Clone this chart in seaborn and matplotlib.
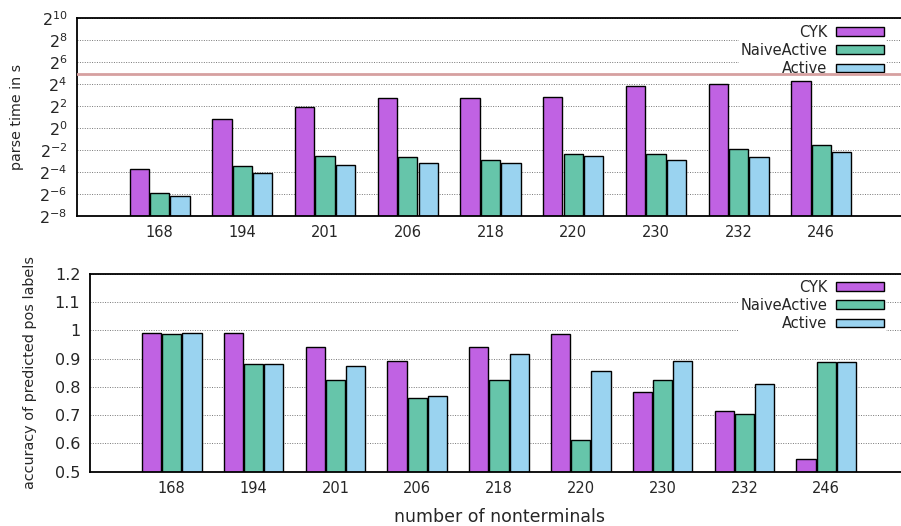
import matplotlib
matplotlib.use('Agg')
import matplotlib.pyplot as plt
import pandas as pd
import seaborn as sns

# data
nonterminals = ['168', '194', '201', '206', '218', '220', '230', '232', '246']
methods = ['CYK', 'NaiveActive', 'Active']

time_cyk = [0.075, 1.73, 3.68, 6.68, 6.68, 6.96, 14.5, 15.8, 19.2]
time_naive = [0.0164, 0.090, 0.167, 0.160, 0.129, 0.198, 0.189, 0.272, 0.349]
time_active = [0.0139, 0.057, 0.099, 0.107, 0.110, 0.171, 0.135, 0.160, 0.215]

acc_cyk = [0.992, 0.992, 0.943, 0.893, 0.943, 0.986, 0.781, 0.716, 0.544]
acc_naive = [0.986, 0.880, 0.825, 0.762, 0.825, 0.612, 0.825, 0.705, 0.887]
acc_active = [0.992, 0.880, 0.874, 0.768, 0.918, 0.855, 0.893, 0.809, 0.887]

timeout = 30
log_ticks = [-8, -6, -4, -2, 0, 2, 4, 6, 8, 10]
acc_ticks = [0.5, 0.6, 0.7, 0.8, 0.9, 1.0, 1.1, 1.2]
acc_tick_labels = ['0.5', '0.6', '0.7', '0.8', '0.9', '1', '1.1', '1.2']

palette = {'CYK': '#c062e3', 'NaiveActive': '#66c5aa', 'Active': '#9ad3f0'}


def long_form(a, b, c, name):
    rows = []
    for m, vals in zip(methods, [a, b, c]):
        for n, v in zip(nonterminals, vals):
            rows.append({'nonterminals': n, 'method': m, name: v})
    return pd.DataFrame(rows)


df_time = long_form(time_cyk, time_naive, time_active, 'time')
df_acc = long_form(acc_cyk, acc_naive, acc_active, 'acc')

sns.set_style('white')
plt.rcParams['font.family'] = ['DejaVu Sans']
plt.rcParams['mathtext.default'] = 'regular'

W, H = 901, 526
fig = plt.figure(figsize=(W / 100, H / 100), dpi=100)
ax1 = fig.add_axes([77 / W, (H - 215.7) / H, 827 / W, 197.4 / H])
ax2 = fig.add_axes([90 / W, (H - 471.7) / H, 818 / W, 197.7 / H])


def style_axes(ax):
    ax.set_xlim(-1, 9)
    ax.grid(axis='y', linestyle=(0, (1, 1.5)), color='#777777', linewidth=0.7)
    ax.grid(axis='x', visible=False)
    ax.set_axisbelow(True)
    for s in ax.spines.values():
        s.set_color('black')
        s.set_linewidth(1.3)
    ax.tick_params(length=0, pad=7)
    ax.tick_params(axis='x', labelsize=10.5)
    ax.tick_params(axis='y', labelsize=11.5)
    ax.set_xlabel('')


# parse time
sns.barplot(data=df_time, x='nonterminals', y='time', hue='method', order=nonterminals,
            hue_order=methods, palette=palette, width=0.74, gap=0.05, saturation=1,
            edgecolor='black', linewidth=1, ax=ax1)
ax1.set_yscale('log', base=2)
ax1.set_ylim(2 ** -8, 2 ** 10)
ax1.set_yticks([2.0 ** e for e in log_ticks])
ax1.set_yticklabels(['$2^{%d}$' % e if e >= 0 else '$2^{\u2212%d}$' % -e for e in log_ticks])
ax1.minorticks_off()
ax1.axhline(timeout, color='#d6a0a0', linewidth=2, zorder=6)
ax1.set_ylabel('parse time in s', fontsize=10.3)
style_axes(ax1)

# accuracy
sns.barplot(data=df_acc, x='nonterminals', y='acc', hue='method', order=nonterminals,
            hue_order=methods, palette=palette, width=0.74, gap=0.05, saturation=1,
            edgecolor='black', linewidth=1, ax=ax2)
ax2.set_ylim(0.5, 1.2)
ax2.set_yticks(acc_ticks)
ax2.set_yticklabels(acc_tick_labels)
ax2.set_ylabel('accuracy of predicted pos labels', fontsize=10.4)
style_axes(ax2)
ax2.set_xlabel('number of nonterminals', fontsize=12.5, labelpad=8)

for ax, top in [(ax1, 16), (ax2, 271)]:
    leg = ax.legend(loc='upper right', bbox_to_anchor=(893 / W, (H - top) / H),
                    bbox_transform=fig.transFigure, markerfirst=False, fontsize=10.5,
                    handlelength=3.3, handleheight=0.55, labelspacing=0.22,
                    borderpad=0.1, handletextpad=0.6, frameon=True, fancybox=False)
    leg.get_frame().set_facecolor('white')
    leg.get_frame().set_edgecolor('none')
    leg.get_frame().set_alpha(1)
    for t in leg.get_texts():
        t.set_ha('right')
    leg._legend_box.align = 'right'

ax1.yaxis.set_label_coords(-53 / 827, 0.5)
ax2.yaxis.set_label_coords(-53 / 818, 0.5)

fig.savefig('out.png', dpi=100)
